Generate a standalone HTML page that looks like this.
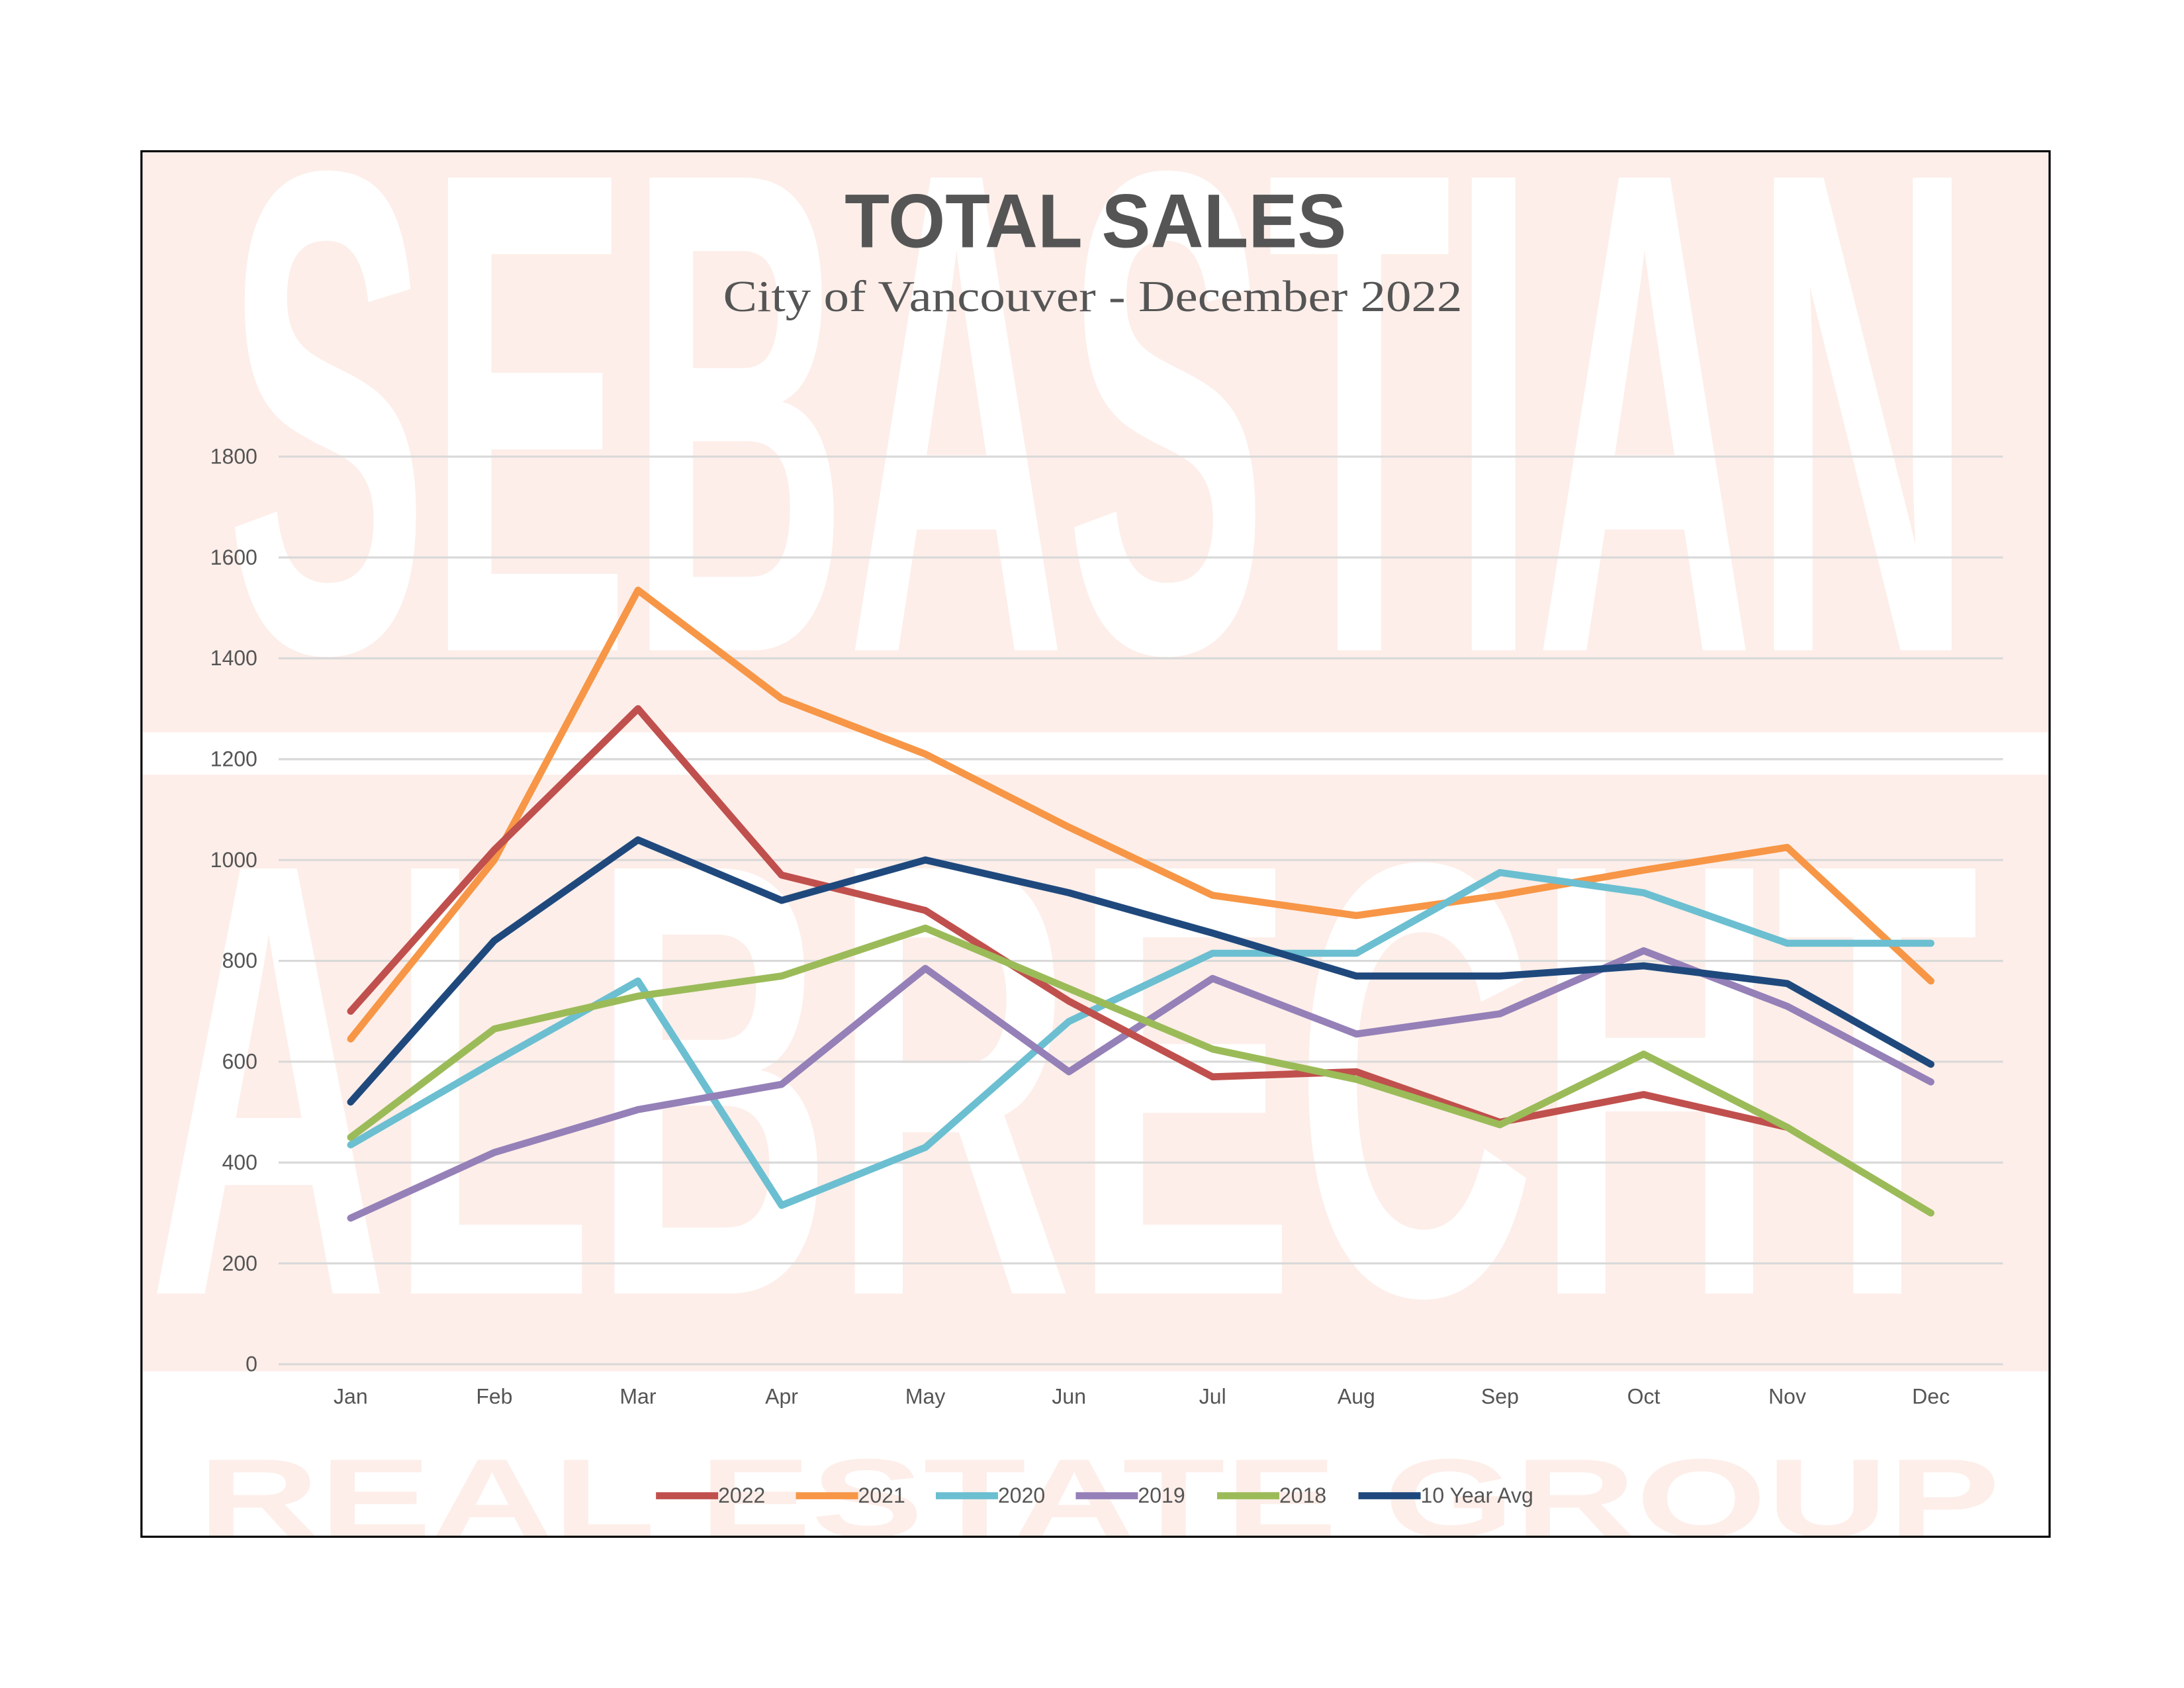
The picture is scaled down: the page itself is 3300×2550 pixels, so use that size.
<!DOCTYPE html>
<html><head><meta charset="utf-8"><style>
html,body{margin:0;padding:0;background:#fff}
svg{display:block}
</style></head><body>
<svg id="s" width="3300" height="2550" viewBox="0 0 1545 1194" xmlns="http://www.w3.org/2000/svg" font-family="Liberation Sans, sans-serif">
<rect x="0" y="0" width="1545" height="1194" fill="#fff"/>
<rect x="101" y="108" width="1348" height="410" fill="#fdeee9"/>
<rect x="101" y="548" width="1348" height="422" fill="#fdeee9"/>
<text x="160" y="460" font-size="486" font-weight="bold" fill="#fff" textLength="1235" lengthAdjust="spacingAndGlyphs">SEBASTIAN</text>
<text x="105" y="915" font-size="437" font-weight="bold" fill="#fff" textLength="1295" lengthAdjust="spacingAndGlyphs">ALBRECHT</text>
<text x="140" y="1087" font-size="79" font-weight="bold" fill="#fdeee9" textLength="1275" lengthAdjust="spacingAndGlyphs">REAL ESTATE GROUP</text>
<g id="grid" stroke="#d9d9d9" stroke-width="1.5"></g>
<g id="ylab" font-size="15" fill="#555" text-anchor="end"></g>
<g id="xlab" font-size="15" fill="#555" text-anchor="middle"></g>
<g id="lines" fill="none" stroke-width="5" stroke-linejoin="round" stroke-linecap="round"></g>
<text x="775" y="175" font-size="54" font-weight="bold" fill="#555" text-anchor="middle" textLength="355" lengthAdjust="spacingAndGlyphs">TOTAL SALES</text>
<text x="773" y="220" font-size="31" fill="#555" text-anchor="middle" font-family="Liberation Serif, serif" textLength="523" lengthAdjust="spacingAndGlyphs">City of Vancouver - December 2022</text>
<g id="leg" font-size="15" fill="#555"></g>
<rect x="100" y="107" width="1350" height="980" fill="none" stroke="#000" stroke-width="1.5"/>
</svg>
<script>
var NS="http://www.w3.org/2000/svg";
function el(p,t,a,txt){var e=document.createElementNS(NS,t);for(var k in a)e.setAttribute(k,a[k]);if(txt!=null)e.textContent=txt;document.getElementById(p).appendChild(e);}
function Y(v){return 965-v*0.35667;}
function X(i){return 248+i*101.64;}
for(var v=0;v<=1800;v+=200){el("grid","line",{x1:197,x2:1417,y1:Y(v),y2:Y(v)});el("ylab","text",{x:182,y:Y(v)+5},v);}
var m=["Jan","Feb","Mar","Apr","May","Jun","Jul","Aug","Sep","Oct","Nov","Dec"];
m.forEach(function(t,i){el("xlab","text",{x:X(i),y:993},t);});
var S=[
["2021","#f79646",[645,1000,1535,1320,1210,1065,930,890,930,980,1025,760]],
["2020","#6bbfd1",[435,600,760,315,430,680,815,815,975,935,835,835]],
["2019","#9580b8",[290,420,505,555,785,580,765,655,695,820,710,560]],
["2022","#c0504d",[700,1020,1300,970,900,720,570,580,480,535,470]],
["2018","#9bbb59",[450,665,730,770,865,745,625,565,475,615,470,300]],
["10 Year Avg","#1f497d",[520,840,1040,920,1000,935,855,770,770,790,755,595]]];
S.forEach(function(s){var d=s[2].map(function(v,i){return (i?"L":"M")+X(i).toFixed(1)+","+Y(v).toFixed(1);}).join("");el("lines","path",{d:d,stroke:s[1]});});
var L=[["2022","#c0504d",464],["2021","#f79646",563],["2020","#6bbfd1",662],["2019","#9580b8",761],["2018","#9bbb59",861],["10 Year Avg","#1f497d",961]];
L.forEach(function(l){el("leg","line",{x1:l[2],x2:l[2]+44,y1:1058,y2:1058,stroke:l[1],"stroke-width":5});el("leg","text",{x:l[2]+44,y:1063},l[0]);});
</script>
</body></html>
